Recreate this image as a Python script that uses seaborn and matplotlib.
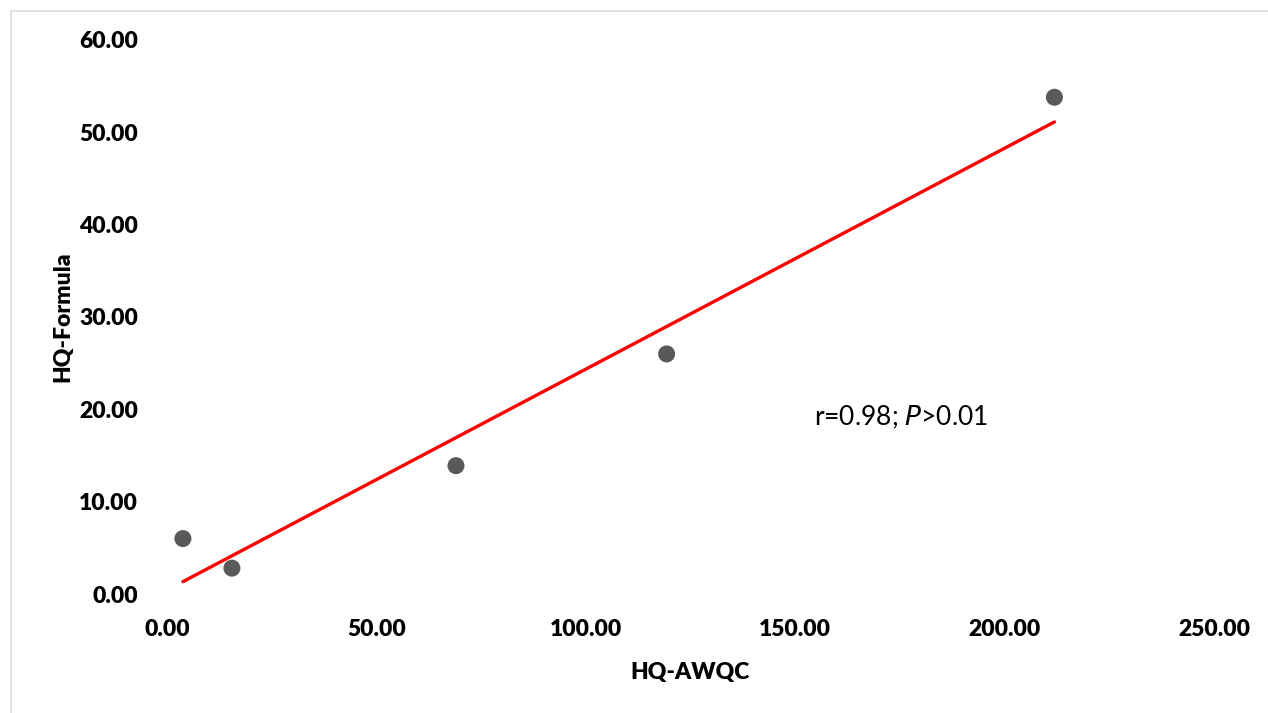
import matplotlib
matplotlib.use("Agg")
import matplotlib.pyplot as plt
import seaborn as sns
import pandas as pd
from matplotlib.patches import Rectangle

hq_awqc = [3.8, 15.5, 69.0, 119.3, 211.9]
hq_formula = [6.0, 2.8, 13.9, 26.0, 53.8]
x_ticks = [0, 50, 100, 150, 200, 250]
y_ticks = [0, 10, 20, 30, 40, 50, 60]

df = pd.DataFrame({"HQ-AWQC": hq_awqc, "HQ-Formula": hq_formula})

sns.set_theme(style="white")
plt.rcParams['font.family'] = ['Lato', 'DejaVu Sans']

fig = plt.figure(figsize=(12.68, 7.13), dpi=100)
ax = fig.add_axes([0.1317, 0.1669, 0.8257, 0.777])

sns.regplot(data=df, x="HQ-AWQC", y="HQ-Formula", scatter=False, ci=None,
            truncate=True, color="#FF0000", line_kws={"linewidth": 2.4}, ax=ax)
sns.scatterplot(data=df, x="HQ-AWQC", y="HQ-Formula", s=150, color="#595959",
                edgecolor="none", ax=ax, zorder=3)

ax.set_xlim(0, 250)
ax.set_ylim(0, 60)
ax.set_xticks(x_ticks)
ax.set_yticks(y_ticks)
ax.set_xticklabels([f"{v:.2f}" for v in x_ticks], fontsize=16.5, fontweight="heavy")
ax.set_yticklabels([f"{v:.2f}" for v in y_ticks], fontsize=16.5, fontweight="heavy")
ax.tick_params(axis="both", length=0, colors="black")
ax.tick_params(axis="x", pad=18)
ax.tick_params(axis="y", pad=21)
for sp in ax.spines.values():
    sp.set_visible(False)
ax.grid(False)

ax.set_xlabel("HQ-AWQC", fontsize=16.5, fontweight="heavy", labelpad=16, color="black")
ax.set_ylabel("HQ-Formula", fontsize=16.5, fontweight="heavy", labelpad=4, color="black")

ax.text(154.5, 19.1, r"r=0.98; $\it{P}$>0.01", fontsize=19, va="center", ha="left",
        color="black")

fig.patches.append(Rectangle((11/1268, -0.01), 1.02, (713-11)/713 + 0.01,
                             transform=fig.transFigure, fill=False,
                             edgecolor="#D9D9D9", linewidth=1.2))

fig.savefig("out.png", dpi=100)
